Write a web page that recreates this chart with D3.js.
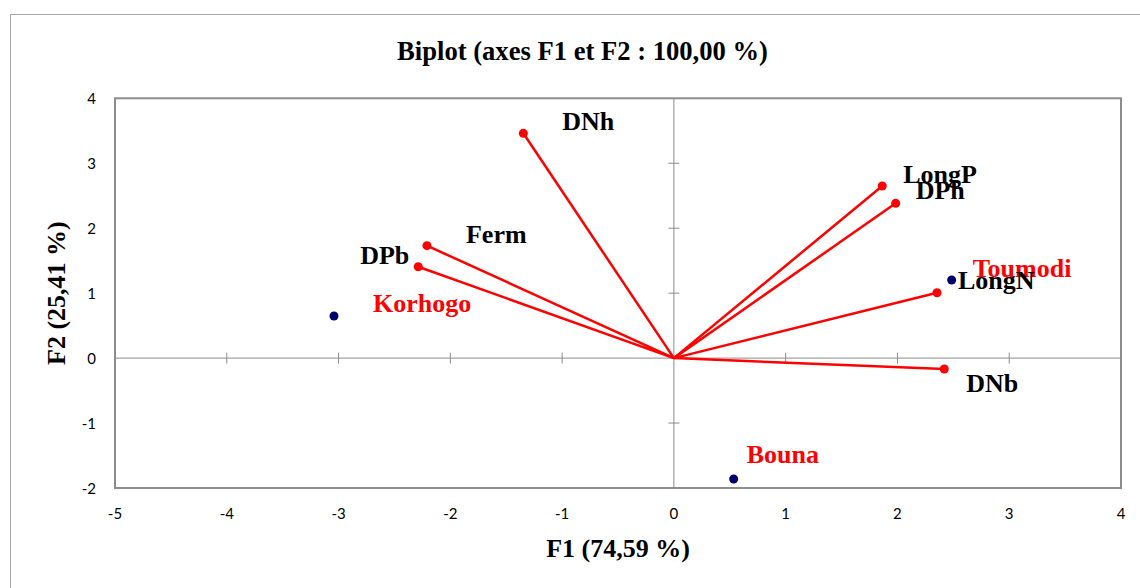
<!DOCTYPE html>
<html>
<head>
<meta charset="utf-8">
<script src="https://cdn.jsdelivr.net/npm/d3@7"></script>
<style>
  html, body { margin: 0; padding: 0; background: #fff; }
  svg { display: block; }
</style>
</head>
<body>
<svg id="chart" width="1140" height="588"></svg>
<script>
// Variables (vectors from the origin), F1 / F2 coordinates
const variableNames = ["DNh", "Ferm", "DPb", "LongP", "DPh", "LongN", "DNb"];
const variableF1 = [-1.347, -2.209, -2.287, 1.864, 1.984, 2.354, 2.419];
const variableF2 = [3.461, 1.731, 1.407, 2.650, 2.383, 1.007, -0.168];

// Observations (sites)
const siteNames = ["Korhogo", "Toumodi", "Bouna"];
const siteF1 = [-3.041, 2.485, 0.535];
const siteF2 = [0.648, 1.202, -1.861];

// Axis ticks
const xTicks = [-5, -4, -3, -2, -1, 0, 1, 2, 3, 4];
const yTicks = [-2, -1, 0, 1, 2, 3, 4];

const titleText = "Biplot (axes F1 et F2 : 100,00 %)";
const xTitle = "F1 (74,59 %)";
const yTitle = "F2 (25,41 %)";

// Label placement next to each point (pixels)
const labelOffset = {
  DNh: [39, -3, "start"], Ferm: [39, -3, "start"], DPb: [-9, -3, "end"],
  LongP: [21, -3, "start"], DPh: [20, -4, "start"], LongN: [21, -4, "start"],
  DNb: [22, 23, "start"],
  Korhogo: [39, -4, "start"], Toumodi: [21, -3, "start"], Bouna: [13, -16, "start"]
};

const svg = d3.select("#chart");
const plot = { left: 115, right: 1121, top: 98.3, bottom: 488 };

const x = d3.scaleLinear().domain([-5, 4]).range([plot.left, plot.right]);
const y = d3.scaleLinear().domain([-2, 4]).range([plot.bottom, plot.top]);

const serif = "'Liberation Serif', 'Times New Roman', serif";
const sans = "Lato, 'Noto Sans', sans-serif";
const gray = "#8c8c8c";

// Outer chart frame
svg.append("rect")
  .attr("x", 10.5).attr("y", 14.5).attr("width", 1145).attr("height", 600)
  .attr("fill", "none").attr("stroke", "#a6a6a6").attr("stroke-width", 1);

// Title
svg.append("text")
  .attr("x", 582.5).attr("y", 60)
  .attr("text-anchor", "middle")
  .style("font-family", serif).style("font-weight", "bold").style("font-size", "26.6px")
  .text(titleText);

// Zero lines with crossing ticks
const zero = svg.append("g");
zero.append("line")
  .attr("x1", x(0)).attr("x2", x(0)).attr("y1", plot.top).attr("y2", plot.bottom)
  .attr("stroke", gray).attr("stroke-width", 1);
zero.append("line")
  .attr("x1", plot.left).attr("x2", plot.right).attr("y1", y(0)).attr("y2", y(0))
  .attr("stroke", gray).attr("stroke-width", 1);

zero.selectAll(".xt").data(xTicks.filter(d => d !== 0 && d !== -5 && d !== 4)).join("line")
  .attr("x1", d => x(d)).attr("x2", d => x(d))
  .attr("y1", y(0) - 5.5).attr("y2", y(0) + 5.5)
  .attr("stroke", gray).attr("stroke-width", 1);
zero.selectAll(".yt").data(yTicks.filter(d => d !== 0 && d !== -2 && d !== 4)).join("line")
  .attr("y1", d => y(d)).attr("y2", d => y(d))
  .attr("x1", x(0) - 5.5).attr("x2", x(0) + 5.5)
  .attr("stroke", gray).attr("stroke-width", 1);

// Plot frame
svg.append("rect")
  .attr("x", plot.left).attr("y", plot.top)
  .attr("width", plot.right - plot.left).attr("height", plot.bottom - plot.top)
  .attr("fill", "none").attr("stroke", gray).attr("stroke-width", 2);

// Tick labels
svg.append("g").selectAll("text").data(xTicks).join("text")
  .attr("x", d => x(d)).attr("y", 519)
  .attr("text-anchor", "middle")
  .style("font-family", sans).style("font-size", "15px").attr("fill", "#000")
  .text(d => d);
svg.append("g").selectAll("text").data(yTicks).join("text")
  .attr("x", 96).attr("y", d => y(d) + 5.5)
  .attr("text-anchor", "end")
  .style("font-family", sans).style("font-size", "15px").attr("fill", "#000")
  .text(d => d);

// Axis titles
svg.append("text")
  .attr("x", (plot.left + plot.right) / 2).attr("y", 557)
  .attr("text-anchor", "middle")
  .style("font-family", serif).style("font-weight", "bold").style("font-size", "26px")
  .text(xTitle);
svg.append("text")
  .attr("transform", `translate(65,${(plot.top + plot.bottom) / 2}) rotate(-90)`)
  .attr("text-anchor", "middle")
  .style("font-family", serif).style("font-weight", "bold").style("font-size", "26px")
  .text(yTitle);

// Variable vectors
const variables = variableNames.map((n, i) => ({ name: n, f1: variableF1[i], f2: variableF2[i] }));
const sites = siteNames.map((n, i) => ({ name: n, f1: siteF1[i], f2: siteF2[i] }));

svg.append("g").selectAll("line").data(variables).join("line")
  .attr("x1", x(0)).attr("y1", y(0))
  .attr("x2", d => x(d.f1)).attr("y2", d => y(d.f2))
  .attr("stroke", "#ff0000").attr("stroke-width", 2.5);
svg.append("g").selectAll("circle").data(variables).join("circle")
  .attr("cx", d => x(d.f1)).attr("cy", d => y(d.f2)).attr("r", 4.5)
  .attr("fill", "#ff0000");

// Site points
svg.append("g").selectAll("circle").data(sites).join("circle")
  .attr("cx", d => x(d.f1)).attr("cy", d => y(d.f2)).attr("r", 4.5)
  .attr("fill", "#00006e");

// Labels
function drawLabels(data, color) {
  svg.append("g").selectAll("text").data(data).join("text")
    .attr("x", d => x(d.f1) + labelOffset[d.name][0])
    .attr("y", d => y(d.f2) + labelOffset[d.name][1])
    .attr("text-anchor", d => labelOffset[d.name][2])
    .style("font-family", serif).style("font-weight", "bold").style("font-size", "26px")
    .attr("fill", color)
    .text(d => d.name);
}
drawLabels(sites, "#ff0000");
drawLabels(variables, "#000000");
</script>
</body>
</html>
